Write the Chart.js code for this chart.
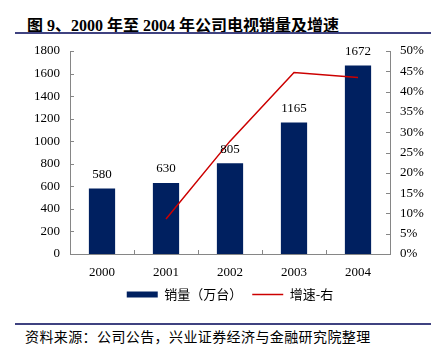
<!DOCTYPE html>
<html>
<head>
<meta charset="utf-8">
<script src="https://cdn.jsdelivr.net/npm/chart.js@4.4.1/dist/chart.umd.min.js"></script>
<style>
  html, body { margin: 0; padding: 0; background: #fff; }
  #wrap { position: relative; width: 431px; height: 354px; overflow: hidden; }
  #title {
    position: absolute; left: 27px; top: 12px;
    font: bold 16px "Liberation Serif", "Noto Sans CJK SC", serif;
    color: #000; white-space: nowrap;
  }
  .rule { position: absolute; left: 15px; right: 0; height: 2px; background: #3f4280; }
  #source {
    position: absolute; left: 25px; top: 326px;
    font: 14px "Noto Sans CJK SC", sans-serif; letter-spacing: 0.4px;
    color: #000; white-space: nowrap;
  }
  #chart-box { position: absolute; left: 0; top: 0; width: 431px; height: 317px; }
</style>
</head>
<body>
<div id="wrap">
  <div id="title">图 9、2000 年至 2004 年公司电视销量及增速</div>
  <div class="rule" style="top:32px"></div>
  <div id="chart-box"><canvas id="c"></canvas></div>
  <div class="rule" style="top:323px"></div>
  <div id="source">资料来源：公司公告，兴业证券经济与金融研究院整理</div>
</div>
<script>
  /* ---- data ------------------------------------------------------ */
  const years   = ["2000", "2001", "2002", "2003", "2004"];
  const sales   = [580, 630, 805, 1165, 1672];          /* 万台 */
  const growth  = [null, 8.6, 27.8, 44.7, 43.5];        /* %    */
  const leftTicks  = { min: 0, max: 1800, step: 200 };
  const rightTicks = { min: 0, max: 50, step: 5 };

  const C_BAR  = "#002060";
  const C_LINE = "#CC0000";
  const C_AXIS = "#868686";
  const TICK_FONT = { family: "Liberation Serif", size: 13 };

  /* ---- value labels above bars ----------------------------------- */
  const barLabels = {
    id: "barLabels",
    afterDatasetsDraw(chart) {
      const ctx = chart.ctx;
      const meta = chart.getDatasetMeta(0);
      ctx.save();
      ctx.font = "13px 'Liberation Serif'";
      ctx.fillStyle = "#000";
      ctx.textAlign = "center";
      ctx.textBaseline = "middle";
      meta.data.forEach((bar, i) => {
        ctx.fillText(String(sales[i]), bar.x, bar.y - 14);
      });
      ctx.restore();
    },
  };

  /* ---- inward tick marks on all three axes ----------------------- */
  const innerTicks = {
    id: "innerTicks",
    afterDraw(chart) {
      const ctx = chart.ctx;
      const { x, y, y1 } = chart.scales;
      const len = 4;
      ctx.save();
      ctx.strokeStyle = C_AXIS;
      ctx.lineWidth = 1;
      ctx.beginPath();
      y.ticks.forEach((t) => {
        const py = Math.round(y.getPixelForValue(t.value)) + 0.5;
        ctx.moveTo(y.right, py); ctx.lineTo(y.right + len, py);
      });
      y1.ticks.forEach((t) => {
        const py = Math.round(y1.getPixelForValue(t.value)) + 0.5;
        ctx.moveTo(y1.left, py); ctx.lineTo(y1.left - len, py);
      });
      for (let i = 1; i < years.length; i++) {
        const px = Math.round((x.getPixelForTick(i - 1) + x.getPixelForTick(i)) / 2) + 0.5;
        ctx.moveTo(px, x.top); ctx.lineTo(px, x.top - len);
      }
      ctx.stroke();
      ctx.restore();
    },
  };

  function axisBase() {
    return {
      grid: { display: false, drawTicks: false },
      border: { display: true, color: C_AXIS, width: 1 },
      ticks: { color: "#000", font: TICK_FONT },
    };
  }

  new Chart(document.getElementById("c"), {
    data: {
      labels: years,
      datasets: [
        {
          type: "bar",
          label: "销量（万台）",
          data: sales,
          backgroundColor: C_BAR,
          borderWidth: 0,
          categoryPercentage: 1,
          barPercentage: 0.41,
          yAxisID: "y",
          pointStyle: "rect",
          order: 2,
        },
        {
          type: "line",
          label: "增速-右",
          data: growth,
          borderColor: C_LINE,
          backgroundColor: C_LINE,
          borderWidth: 1.5,
          pointRadius: 0,
          tension: 0,
          yAxisID: "y1",
          pointStyle: "line",
          order: 1,
        },
      ],
    },
    options: {
      responsive: true,
      maintainAspectRatio: false,
      animation: false,
      layout: { padding: { top: 51, left: 0, right: 0, bottom: 6 } },
      plugins: {
        tooltip: { enabled: false },
        legend: {
          position: "bottom",
          fullSize: false,
          labels: {
            usePointStyle: true,
            pointStyleWidth: 31,
            boxHeight: 6,
            padding: 10,
            color: "#000",
            font: { family: "Noto Sans CJK SC", size: 13 },
            sort: (a, b) => a.datasetIndex - b.datasetIndex,
          },
        },
      },
      scales: {
        x: {
          ...axisBase(),
          offset: true,
          ticks: { ...axisBase().ticks, padding: 11, maxRotation: 0 },
          afterFit: (s) => { s.height = 24; },
        },
        y: {
          ...axisBase(),
          position: "left",
          min: leftTicks.min, max: leftTicks.max,
          ticks: { ...axisBase().ticks, stepSize: leftTicks.step, padding: 10,
                   callback: (v) => String(v) },
          afterFit: (s) => { s.width = 70; },
        },
        y1: {
          ...axisBase(),
          position: "right",
          min: rightTicks.min, max: rightTicks.max,
          ticks: { ...axisBase().ticks, stepSize: rightTicks.step, padding: 10,
                   callback: (v) => v + "%" },
          afterFit: (s) => { s.width = 41; },
        },
      },
    },
    plugins: [barLabels, innerTicks],
  });
</script>
</body>
</html>
